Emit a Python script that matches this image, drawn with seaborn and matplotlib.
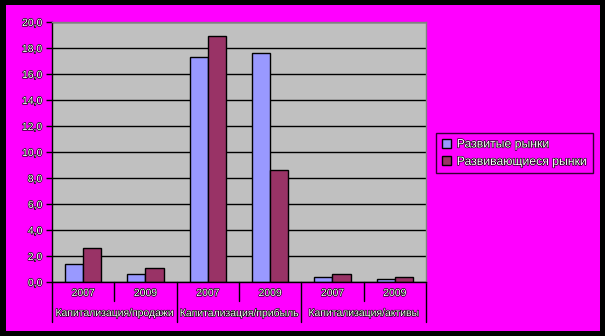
import matplotlib
matplotlib.use("Agg")
import matplotlib.pyplot as plt
import matplotlib.patheffects as pe
from matplotlib.patches import Rectangle
from matplotlib.lines import Line2D
from matplotlib.ticker import FuncFormatter, MultipleLocator
import seaborn as sns
import pandas as pd

groups = ["Капитализация/продажи", "Капитализация/прибыль", "Капитализация/активы"]
years = ["2007", "2009"]
series = ["Развитые рынки", "Развивающиеся рынки"]
developed = [1.35, 0.65, 17.3, 17.6, 0.35, 0.25]
emerging = [2.6, 1.1, 18.9, 8.6, 0.65, 0.35]

slots = [f"{g}|{y}" for g in groups for y in years]
df = pd.DataFrame({
    "slot": slots * 2,
    "series": [series[0]] * len(slots) + [series[1]] * len(slots),
    "value": developed + emerging,
})

sns.set_theme(style="white")
plt.rcParams["font.family"] = ["Liberation Sans", "DejaVu Sans"]

W, H = 605, 336
fig = plt.figure(figsize=(W / 100, H / 100), dpi=100)
fig.patch.set_facecolor("black")
fig.add_artist(Rectangle((6 / W, 1 - 331 / H), 594 / W, 326 / H,
                         transform=fig.transFigure, facecolor="#FF00FF",
                         edgecolor="none", zorder=0))

ax = fig.add_axes([52 / W, 1 - 282 / H, (426 - 52) / W, (282 - 22) / H])
ax.set_facecolor("#C0C0C0")

palette = {series[0]: "#9999FF", series[1]: "#993366"}
sns.barplot(data=df, x="slot", y="value", hue="series", order=slots,
            hue_order=series, palette=palette, width=0.58, saturation=1,
            edgecolor="black", linewidth=1, ax=ax, legend=True)

ax.set_ylim(0, 20)
ax.set_xlim(-0.5, len(slots) - 0.5)
ax.yaxis.set_major_locator(MultipleLocator(2))
ax.yaxis.set_major_formatter(FuncFormatter(lambda v, p: f"{v:.1f}".replace(".", ",")))
ax.grid(axis="y", color="black", linewidth=1)
ax.set_axisbelow(True)
ax.set_xlabel("")
ax.set_ylabel("")
ax.set_xticks([])

txt_fx = [pe.withStroke(linewidth=0.9, foreground="black")]
ax.tick_params(axis="y", direction="out", length=4, width=1, color="black",
               labelsize=7.5, labelcolor="white", pad=3, left=True)
for lab in ax.get_yticklabels():
    lab.set_path_effects(txt_fx)

for side in ["top", "right"]:
    ax.spines[side].set_color("#808080")
    ax.spines[side].set_linewidth(1)
ax.spines["left"].set_color("black")
ax.spines["bottom"].set_color("black")
ax.spines["left"].set_linewidth(1)
ax.spines["bottom"].set_linewidth(1)

# category axis lines
xt = ax.get_xaxis_transform()
ah = 260.0
for i in range(len(slots) + 1):
    x = i - 0.5
    long = (i % 2 == 0)
    y1 = -(40 if long else 19) / ah
    ax.add_line(Line2D([x, x], [0, y1], transform=xt, color="black",
                       linewidth=1, clip_on=False))
for i, s in enumerate(slots):
    ax.text(i, -11 / ah, s.split("|")[1], transform=xt, ha="center",
            va="center", fontsize=7.5, color="white", path_effects=txt_fx)
for j, g in enumerate(groups):
    ax.text(2 * j + 0.5, -31 / ah, g, transform=xt, ha="center",
            va="center", fontsize=7.5, color="white", path_effects=txt_fx)

# legend
handles, labels = ax.get_legend_handles_labels()
ax.get_legend().remove()
leg = fig.legend(handles, labels, loc="upper left",
                 bbox_to_anchor=(436 / W, 1 - 133 / H),
                 bbox_transform=fig.transFigure, frameon=True,
                 fancybox=False, fontsize=8.8, handlelength=0.75,
                 handleheight=0.75, handletextpad=0.5, labelspacing=0.45,
                 borderpad=0.45, borderaxespad=0)
leg.get_frame().set_facecolor("#FF00FF")
leg.get_frame().set_edgecolor("black")
leg.get_frame().set_linewidth(1)
for t in leg.get_texts():
    t.set_color("white")
    t.set_path_effects(txt_fx)

fig.savefig("out.png", dpi=100, facecolor=fig.get_facecolor())
